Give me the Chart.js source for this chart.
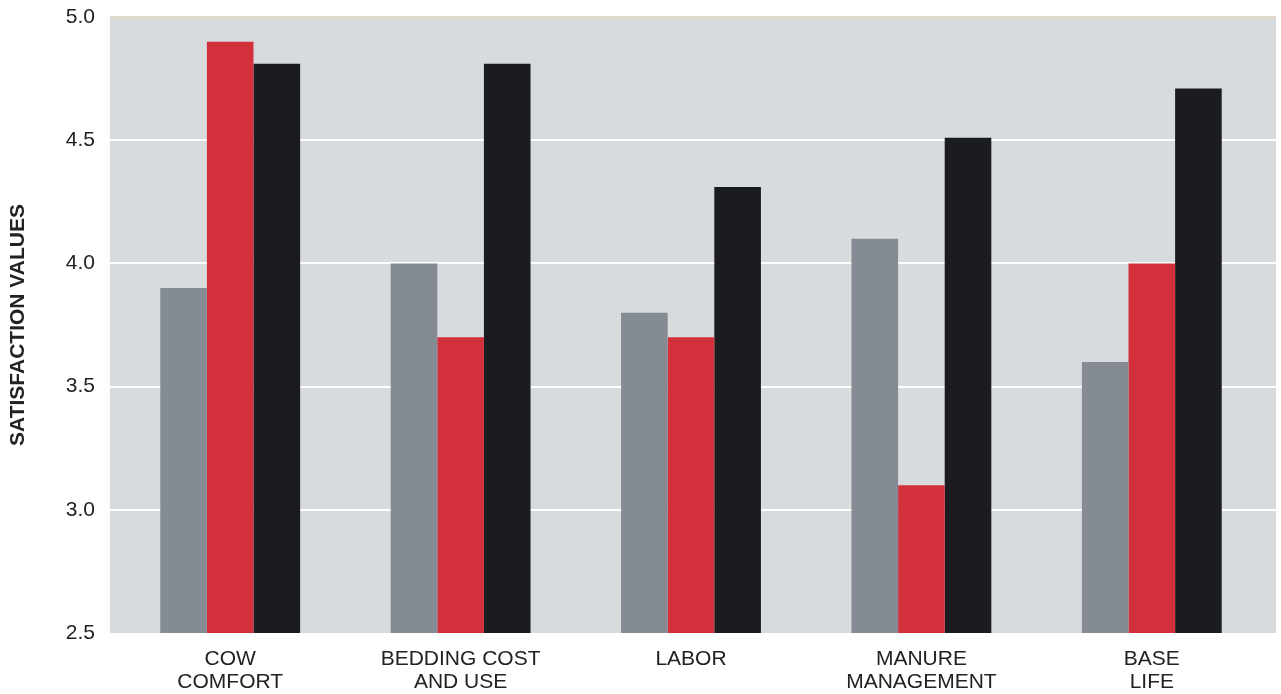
<!DOCTYPE html>
<html>
<head>
<meta charset="utf-8">
<script src="https://cdn.jsdelivr.net/npm/chart.js@4"></script>
<style>
  html, body { margin: 0; padding: 0; background: #ffffff; }
  #wrap { width: 1281px; height: 694px; position: relative; }
</style>
</head>
<body>
<div id="wrap"><canvas id="c" width="1281" height="694"></canvas></div>
<script>
const categories = [["COW", "COMFORT"], ["BEDDING COST", "AND USE"], ["LABOR"], ["MANURE", "MANAGEMENT"], ["BASE", "LIFE"]];
const seriesGray = [3.9, 4.0, 3.8, 4.1, 3.6];
const seriesRed = [4.9, 3.7, 3.7, 3.1, 4.0];
const seriesBlack = [4.81, 4.81, 4.31, 4.51, 4.71];
const yTicks = [2.5, 3.0, 3.5, 4.0, 4.5, 5.0];

const EXT_L = 5, EXT_R = 9;

const plotBg = {
  id: 'plotBg',
  beforeDraw(chart) {
    const { ctx, chartArea: a, scales } = chart;
    const y = scales.y;
    const L = a.left - EXT_L, R = a.right + EXT_R;
    ctx.save();
    ctx.fillStyle = '#d8dbde';
    ctx.fillRect(L, a.top, R - L, a.bottom - a.top);
    yTicks.forEach(v => {
      if (v === 2.5) return;
      const py = Math.round(y.getPixelForValue(v));
      if (v === 5.0) {
        ctx.fillStyle = '#e3d9cf';
        ctx.fillRect(L, py - 1, R - L, 3);
      } else {
        ctx.fillStyle = '#ffffff';
        ctx.fillRect(L, py - 1, R - L, 2);
      }
    });
    ctx.restore();
  }
};

const FONT = 'Liberation Sans, Arial, Helvetica, sans-serif';

new Chart(document.getElementById('c'), {
  type: 'bar',
  data: {
    labels: categories,
    datasets: [
      { label: 'A', data: seriesGray, backgroundColor: '#858b93' },
      { label: 'B', data: seriesRed, backgroundColor: '#d2303b' },
      { label: 'C', data: seriesBlack, backgroundColor: '#1b1c1f' }
    ]
  },
  options: {
    responsive: false,
    animation: false,
    devicePixelRatio: 1,
    layout: { padding: { top: 17, right: 14, left: 0, bottom: 0 } },
    plugins: { legend: { display: false }, tooltip: { enabled: false } },
    datasets: { bar: { categoryPercentage: 0.607, barPercentage: 1.0 } },
    scales: {
      x: {
        grid: { display: false, drawTicks: false },
        border: { display: false },
        ticks: {
          color: '#222222',
          font: { family: FONT, size: 21, lineHeight: 1.1 },
          padding: 15,
          maxRotation: 0
        },
        afterFit(s) { s.height = 61; s.paddingLeft = 0; s.paddingRight = 0; }
      },
      y: {
        min: 2.5,
        max: 5.0,
        afterBuildTicks(s) { s.ticks = yTicks.map(v => ({ value: v })); },
        grid: { display: false, drawTicks: false },
        border: { display: false },
        ticks: {
          color: '#222222',
          font: { family: FONT, size: 21 },
          padding: 20,
          callback: v => Number(v).toFixed(1)
        },
        title: {
          display: true,
          text: 'SATISFACTION VALUES',
          color: '#222222',
          font: { family: FONT, size: 21, weight: 'bold' },
          padding: { top: 6, bottom: 18 }
        },
        afterFit(s) { s.width = 115; s.paddingTop = 0; s.paddingBottom = 0; }
      }
    }
  },
  plugins: [plotBg]
});
</script>
</body>
</html>
